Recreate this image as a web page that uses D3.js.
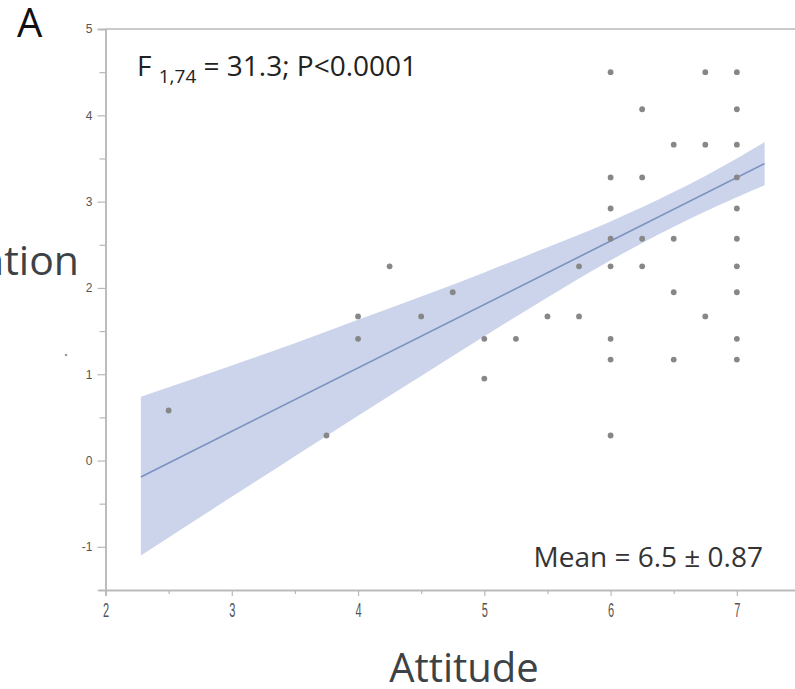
<!DOCTYPE html>
<html>
<head>
<meta charset="utf-8">
<script src="https://cdn.jsdelivr.net/npm/d3@7"></script>
<style>
  body { margin: 0; background: #fff; }
  svg { display: block; }
</style>
</head>
<body>
<div id="chart"></div>
<script>
// points (attitude, y value)
var pointX = [2.5, 3.75, 4, 4, 4.25, 4.5, 4.75, 5, 5, 5.25, 5.5, 5.75, 5.75,
  6, 6, 6, 6, 6, 6, 6, 6,
  6.25, 6.25, 6.25, 6.25,
  6.5, 6.5, 6.5, 6.5,
  6.75, 6.75, 6.75,
  7, 7, 7, 7, 7, 7, 7, 7, 7, 7];
var pointY = [0.58, 0.29, 1.67, 1.41, 2.25, 1.67, 1.95, 1.41, 0.95, 1.41, 1.67, 2.25, 1.67,
  4.5, 3.28, 2.92, 2.57, 2.25, 1.41, 1.17, 0.29,
  4.07, 3.28, 2.57, 2.25,
  3.66, 2.57, 1.95, 1.17,
  4.5, 3.66, 1.67,
  4.5, 4.07, 3.66, 3.28, 2.92, 2.57, 2.25, 1.95, 1.41, 1.17];

// fitted line ends
var fitX = [2.28, 7.22];
var fitY = [-0.19, 3.44];

// confidence band edges
var bandX  = [2.28, 3, 3.5, 4, 4.5, 5, 5.5, 6, 6.5, 7, 7.22];
var bandLo = [-1.10, -0.42, 0.05, 0.52, 0.98, 1.44, 1.89, 2.32, 2.71, 3.05, 3.19];
var bandHi = [0.74, 1.10, 1.36, 1.63, 1.90, 2.18, 2.47, 2.77, 3.11, 3.50, 3.69];

var xTicks = [2, 3, 4, 5, 6, 7];
var xMinor = [2.5, 3.5, 4.5, 5.5, 6.5, 7.5];
var yTicks = [-1, 0, 1, 2, 3, 4, 5];
var yMinor = [-1.5, -0.5, 0.5, 1.5, 2.5, 3.5, 4.5];

var W = 795, H = 689;
var svg = d3.select('#chart').append('svg')
    .attr('width', W)
    .attr('height', H);

svg.append('rect').attr('width', W).attr('height', H).attr('fill', '#fff');

var x = d3.scaleLinear().domain([2, 7.5]).range([105.5, 800]);
var y = d3.scaleLinear().domain([-1.5, 5]).range([590, 29]);

var axisColor = '#b8b8b8';
var tickFont = '"Liberation Sans", "DejaVu Sans", sans-serif';
var fmt = function(d){ return String(d); };

// band
var band = bandX.map(function(d, i){ return {x: d, lo: bandLo[i], hi: bandHi[i]}; });
svg.append('path')
    .datum(band)
    .attr('fill', '#cbd4ea')
    .attr('d', d3.area()
        .x(function(d){ return x(d.x); })
        .y0(function(d){ return y(d.lo); })
        .y1(function(d){ return y(d.hi); })
        .curve(d3.curveMonotoneX));

// fit line
svg.append('path')
    .datum(fitX.map(function(d, i){ return [d, fitY[i]]; }))
    .attr('fill', 'none')
    .attr('stroke', '#7d90c2')
    .attr('stroke-width', 1.6)
    .attr('d', d3.line()
        .x(function(d){ return x(d[0]); })
        .y(function(d){ return y(d[1]); }));

// points
svg.append('g').selectAll('circle')
    .data(pointX.map(function(d, i){ return [d, pointY[i]]; }))
    .enter().append('circle')
    .attr('cx', function(d){ return x(d[0]); })
    .attr('cy', function(d){ return y(d[1]); })
    .attr('r', 2.9)
    .attr('fill', '#878787');

// axes
var xAxis = svg.append('g')
    .attr('transform', 'translate(0,' + y(-1.5) + ')')
    .call(d3.axisBottom(x).tickValues(xTicks).tickSize(6).tickFormat(fmt));
var xAxisMinor = svg.append('g')
    .attr('transform', 'translate(0,' + y(-1.5) + ')')
    .call(d3.axisBottom(x).tickValues(xMinor).tickSize(4).tickFormat(''));

var yAxis = svg.append('g')
    .attr('transform', 'translate(' + x(2) + ',0)')
    .call(d3.axisLeft(y).tickValues(yTicks).tickSize(8).tickPadding(5).tickFormat(fmt));
var yAxisMinor = svg.append('g')
    .attr('transform', 'translate(' + x(2) + ',0)')
    .call(d3.axisLeft(y).tickValues(yMinor).tickSize(6).tickFormat(''));

[xAxis, xAxisMinor, yAxis, yAxisMinor].forEach(function(g){
    g.select('.domain').attr('stroke', axisColor).attr('stroke-width', 1.5);
    g.selectAll('.tick line').attr('stroke', axisColor).attr('stroke-width', 1.2);
    g.selectAll('.tick text')
        .attr('fill', '#555')
        .style('font-family', tickFont)
        .style('font-size', '12px');
});

// x tick labels are tall and narrow in the picture
xAxis.selectAll('.tick text')
    .attr('y', 0).attr('dy', 0)
    .style('font-size', '13px')
    .attr('transform', 'translate(0,27) scale(0.85,1.6)');

// top border
svg.append('line')
    .attr('x1', x(2)).attr('x2', W)
    .attr('y1', y(5)).attr('y2', y(5))
    .attr('stroke', axisColor).attr('stroke-width', 1.5);

// texts
svg.append('text')
    .attr('x', 17).attr('y', 37)
    .style('font-family', '"Open Sans", sans-serif')
    .style('font-size', '40px')
    .attr('fill', '#111')
    .text('A');

var f = svg.append('text')
    .attr('x', 137).attr('y', 76)
    .style('font-family', '"Open Sans", sans-serif')
    .style('font-size', '28px')
    .attr('fill', '#222');
f.append('tspan').text('F ');
f.append('tspan').attr('dy', 7).style('font-size', '19px').text('1,74');
f.append('tspan').attr('dy', -7).text(' = 31.3; P<0.0001');

svg.append('text')
    .attr('x', 763).attr('y', 567)
    .attr('text-anchor', 'end')
    .style('font-family', '"Open Sans", sans-serif')
    .style('font-size', '28px')
    .attr('fill', '#333')
    .text('Mean = 6.5 \u00b1 0.87');

svg.append('text')
    .attr('x', 464).attr('y', 682)
    .attr('text-anchor', 'middle')
    .style('font-family', '"Open Sans", sans-serif')
    .style('font-size', '40px')
    .attr('fill', '#3d4246')
    .text('Attitude');

svg.append('text')
    .attr('x', 79).attr('y', 275)
    .attr('text-anchor', 'end')
    .style('font-family', '"Open Sans", sans-serif')
    .style('font-size', '41px')
    .attr('fill', '#3d4246')
    .text('Intention');

// stray mark left of the axis
svg.append('circle')
    .attr('cx', 66).attr('cy', 355).attr('r', 1.3)
    .attr('fill', '#9a9a9a');
</script>
</body>
</html>
